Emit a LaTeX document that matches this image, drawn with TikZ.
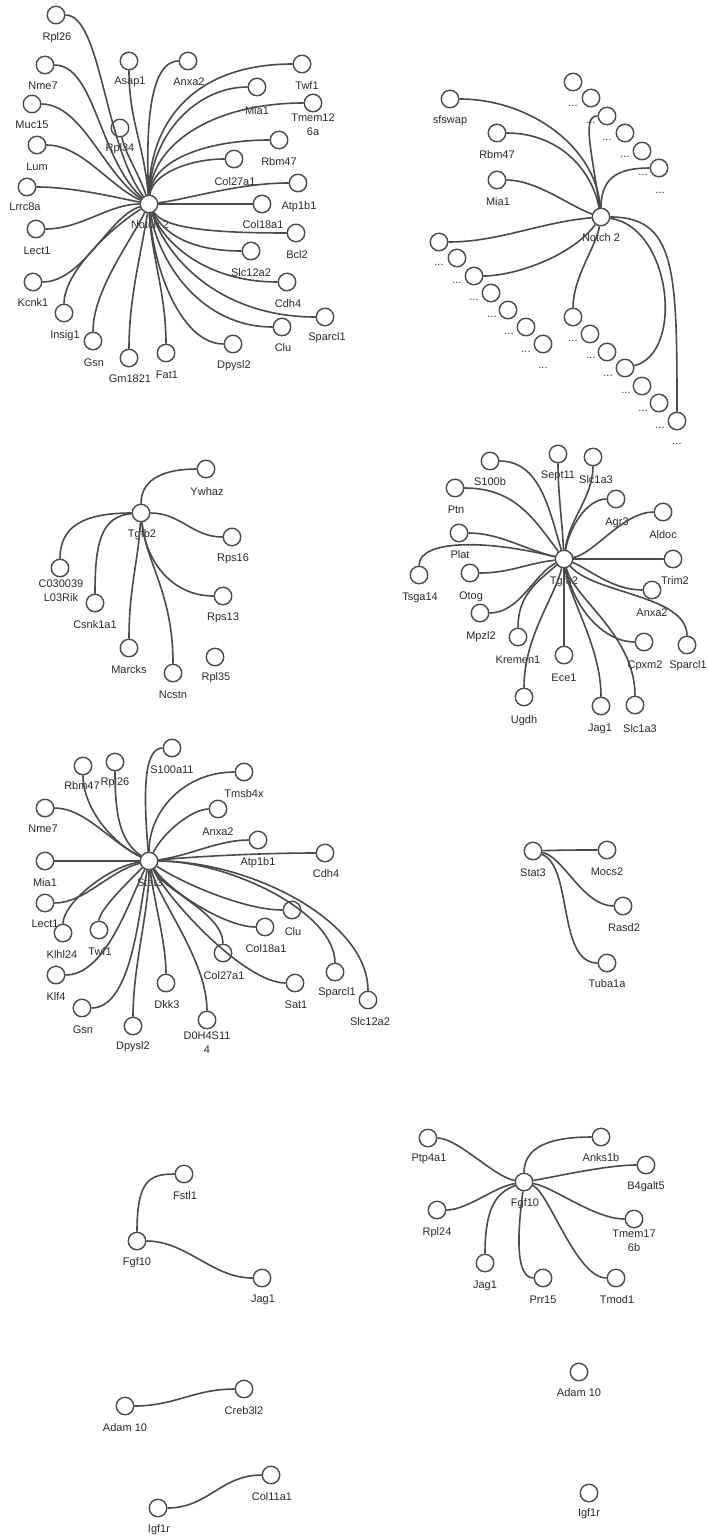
\documentclass[tikz,border=0pt]{standalone}
\usepackage{fontspec}
\setmainfont{Liberation Sans}
\definecolor{ln}{HTML}{4A4A4A}
\definecolor{tx}{HTML}{2A2A2A}
\tikzset{
  gene/.style={circle, draw=ln, line width=1.4pt, fill=white, minimum size=17.5pt, inner sep=0pt},
  lab/.style={font=\fontsize{11}{14}\selectfont, text=tx, inner sep=0pt, align=center},
  edge/.style={draw=ln, line width=1.6pt}
}
\newcommand\gnode[6]{\node[gene] (#1) at (#2,#3) {}; \node[lab] (#1l) at (#5,#6) {#4};}
\newcommand\dnode[5]{\node[gene] (#1) at (#2,#3) {}; \node[lab] (#1l) at (#4,#5) {...};}
\newcommand\edg[4]{\draw[edge] (#1) .. controls +(#2) and +(#3) .. (#4);}
\begin{document}
\begin{tikzpicture}[x=1pt,y=-1pt]
\path[use as bounding box, fill=white] (0,0) rectangle (708,1536);
% ---------- Notch 2 (left) ----------
\gnode{aH}{149}{204}{Notch 2}{150}{225}
\gnode{a1}{56}{15}{Rpl26}{57}{38}
\gnode{a2}{45}{65}{Nme7}{43}{86}
\gnode{a3}{32}{104}{Muc15}{32}{125}
\gnode{a4}{37}{145}{Lum}{37}{167}
\gnode{a5}{27}{187}{Lrrc8a}{25}{207}
\gnode{a6}{36}{229}{Lect1}{37}{251}
\gnode{a7}{33}{282}{Kcnk1}{33}{303}
\gnode{a8}{64}{313}{Insig1}{65}{336}
\gnode{a9}{93}{341}{Gsn}{94}{363}
\gnode{a10}{129}{358}{Gm1821}{130}{379}
\gnode{a11}{166}{353}{Fat1}{167}{375}
\gnode{a12}{233}{344}{Dpysl2}{234}{366}
\gnode{a13}{282}{327}{Clu}{283}{348}
\gnode{a14}{325}{317}{Sparcl1}{327}{338}
\gnode{a15}{287}{282}{Cdh4}{288}{304}
\gnode{a16}{251}{251}{Slc12a2}{251}{273}
\gnode{a17}{296}{233}{Bcl2}{297}{255}
\gnode{a18}{262}{204}{Col18a1}{263}{225}
\gnode{a19}{298}{183}{Atp1b1}{299}{207}
\gnode{a20}{234}{159}{Col27a1}{235}{182}
\gnode{a21}{279}{140}{Rbm47}{279}{162}
\gnode{a22}{313}{103}{Tmem12\\6a}{313}{125}
\gnode{a23}{257}{87}{Mia1}{257}{111}
\gnode{a24}{302}{64}{Twf1}{307}{86}
\gnode{a25}{188}{61}{Anxa2}{189}{82}
\gnode{a26}{129}{61}{Asap1}{130}{82}
\gnode{a27}{120}{128}{Rpl34}{120}{149}
\edg{aH}{-45,-60}{45,0}{a1}
\edg{aH}{-50,-45}{50,0}{a2}
\edg{aH}{-45,-30}{50,0}{a3}
\edg{aH}{-40,-18}{45,0}{a4}
\edg{aH}{-40,-8}{45,0}{a5}
\edg{aH}{-40,0}{45,0}{a6}
\edg{aH}{-40,12}{50,0}{a7}
\edg{aH}{-40,25}{0,-40}{a8}
\edg{aH}{-20,40}{0,-50}{a9}
\edg{aH}{-8,50}{0,-60}{a10}
\edg{aH}{2,50}{0,-60}{a11}
\edg{aH}{5,70}{-50,0}{a12}
\edg{aH}{10,60}{-80,0}{a13}
\edg{aH}{20,60}{-100,0}{a14}
\edg{aH}{15,40}{-80,0}{a15}
\edg{aH}{15,30}{-60,0}{a16}
\edg{aH}{15,25}{-80,0}{a17}
\edg{aH}{40,0}{-40,0}{a18}
\edg{aH}{40,-5}{-60,0}{a19}
\edg{aH}{3,-30}{-45,0}{a20}
\edg{aH}{3,-45}{-70,0}{a21}
\edg{aH}{3,-60}{-100,0}{a22}
\edg{aH}{2,-70}{-60,0}{a23}
\edg{aH}{0,-80}{-110,0}{a24}
\edg{aH}{-3,-70}{-40,0}{a25}
\edg{aH}{-5,-60}{0,60}{a26}
\edg{aH}{-10,-30}{5,25}{a27}
% ---------- Notch 2 (right) ----------
\gnode{bH}{601}{217}{Notch 2}{601}{238}
\gnode{b1}{450}{99}{sfswap}{450}{121}
\gnode{b2}{497}{133}{Rbm47}{497}{155}
\gnode{b3}{497}{180}{Mia1}{498}{202}
\dnode{bt1}{573}{82}{573}{106}
\dnode{bt2}{591}{98}{591}{123}
\dnode{bt3}{607}{116}{607}{140}
\dnode{bt4}{625}{133}{625}{157}
\dnode{bt5}{642}{151}{643}{175}
\dnode{bt6}{659}{168}{660}{193}
\dnode{bl1}{439}{242}{439}{265}
\dnode{bl2}{457}{258}{457}{283}
\dnode{bl3}{474}{276}{474}{300}
\dnode{bl4}{491}{293}{492}{317}
\dnode{bl5}{508}{310}{509}{334}
\dnode{bl6}{526}{327}{526}{352}
\dnode{bl7}{543}{344}{543}{368}
\dnode{br1}{573}{317}{573}{341}
\dnode{br2}{590}{334}{591}{358}
\dnode{br3}{607}{352}{608}{376}
\dnode{br4}{625}{368}{626}{393}
\dnode{br5}{642}{386}{643}{411}
\dnode{br6}{659}{403}{660}{428}
\dnode{br7}{677}{421}{677}{444}
\edg{bH}{-5,-70}{80,0}{b1}
\edg{bH}{-10,-50}{60,0}{b2}
\edg{bH}{-30,-10}{40,0}{b3}
\edg{bH}{-10,-70}{-25,0}{bt3}
\edg{bH}{0,-40}{-40,0}{bt6}
\edg{bH}{-60,5}{60,0}{bl1}
\edg{bH}{-30,40}{40,0}{bl3}
\edg{bH}{-5,30}{0,-40}{br1}
\edg{bH}{70,10}{60,-15}{br4}
\edg{bH}{75,0}{0,-150}{br7}
% ---------- Tgfb2 (left) ----------
\gnode{cH}{141}{513}{Tgfb2}{142}{535}
\gnode{c1}{206}{469}{Ywhaz}{207}{492}
\gnode{c2}{232}{537}{Rps16}{233}{559}
\gnode{c3}{223}{596}{Rps13}{223}{618}
\gnode{c4}{215}{657}{Rpl35}{216}{678}
\gnode{c5}{173}{673}{Ncstn}{173}{695}
\gnode{c6}{129}{648}{Marcks}{129}{670}
\gnode{c7}{95}{603}{Csnk1a1}{95}{625}
\gnode{c8}{60}{568}{C030039\\L03Rik}{61}{591}
\edg{cH}{0,-35}{-40,0}{c1}
\edg{cH}{40,0}{-40,0}{c2}
\edg{cH}{5,50}{-50,0}{c3}
\edg{cH}{5,50}{0,-80}{c5}
\edg{cH}{-3,50}{0,-60}{c6}
\edg{cH}{-40,3}{0,-60}{c7}
\edg{cH}{-60,0}{0,-40}{c8}
% ---------- Tgfb2 (right) ----------
\gnode{dH}{564}{559}{Tgfb2}{564}{582}
\gnode{d1}{490}{461}{S100b}{490}{482}
\gnode{d2}{558}{454}{Sept11}{558}{476}
\gnode{d3}{593}{457}{Slc1a3}{596}{480}
\gnode{d4}{455}{488}{Ptn}{456}{510}
\gnode{d5}{616}{499}{Agr3}{617}{523}
\gnode{d6}{663}{512}{Aldoc}{663}{535}
\gnode{d7}{459}{533}{Plat}{460}{555}
\gnode{d8}{673}{559}{Trim2}{675}{581}
\gnode{d9}{419}{575}{Tsga14}{420}{598}
\gnode{d10}{470}{573}{Otog}{471}{597}
\gnode{d11}{652}{590}{Anxa2}{652}{613}
\gnode{d12}{480}{613}{Mpzl2}{481}{637}
\gnode{d13}{687}{645}{Sparcl1}{688}{666}
\gnode{d14}{518}{637}{Kremen1}{518}{660}
\gnode{d15}{644}{642}{Cpxm2}{645}{666}
\gnode{d16}{564}{655}{Ece1}{564}{678}
\gnode{d17}{524}{697}{Ugdh}{524}{721}
\gnode{d18}{601}{706}{Jag1}{600}{729}
\gnode{d19}{635}{705}{Slc1a3}{640}{729}
\edg{dH}{-15,-50}{50,0}{d1}
\edg{dH}{-2,-40}{0,40}{d2}
\edg{dH}{5,-40}{0,40}{d3}
\edg{dH}{-30,-40}{60,0}{d4}
\edg{dH}{5,-30}{-30,0}{d5}
\edg{dH}{30,-5}{-40,0}{d6}
\edg{dH}{-40,-10}{40,0}{d7}
\edg{dH}{40,0}{-40,0}{d8}
\edg{dH}{-80,-20}{0,-35}{d9}
\edg{dH}{-40,5}{40,0}{d10}
\edg{dH}{25,10}{-40,0}{d11}
\edg{dH}{-30,15}{40,0}{d12}
\edg{dH}{30,35}{0,-50}{d13}
\edg{dH}{-30,25}{0,-40}{d14}
\edg{dH}{10,50}{-40,0}{d15}
\edg{dH}{0,30}{0,-30}{d16}
\edg{dH}{-10,40}{0,-60}{d17}
\edg{dH}{5,40}{0,-60}{d18}
\edg{dH}{10,40}{0,-70}{d19}
% ---------- Stat3 (left) ----------
\gnode{eH}{149}{861}{Stat3}{150}{883}
\gnode{e1}{172}{748}{S100a11}{172}{770}
\gnode{e2}{83}{766}{Rbm47}{82}{786}
\gnode{e3}{115}{762}{Rpl26}{115}{783}
\gnode{e4}{244}{772}{Tmsb4x}{244}{794}
\gnode{e5}{45}{808}{Nme7}{43}{829}
\gnode{e6}{218}{809}{Anxa2}{218}{832}
\gnode{e7}{258}{840}{Atp1b1}{258}{863}
\gnode{e8}{325}{853}{Cdh4}{326}{874}
\gnode{e9}{45}{861}{Mia1}{45}{883}
\gnode{e10}{45}{903}{Lect1}{45}{924}
\gnode{e11}{63}{933}{Klhl24}{62}{955}
\gnode{e12}{99}{930}{Twf1}{100}{952}
\gnode{e13}{292}{910}{Clu}{293}{932}
\gnode{e14}{265}{927}{Col18a1}{266}{949}
\gnode{e15}{223}{953}{Col27a1}{224}{976}
\gnode{e16}{56}{975}{Klf4}{56}{997}
\gnode{e17}{335}{972}{Sparcl1}{337}{993}
\gnode{e18}{295}{983}{Sat1}{296}{1005}
\gnode{e19}{166}{983}{Dkk3}{167}{1005}
\gnode{e20}{82}{1008}{Gsn}{83}{1030}
\gnode{e21}{368}{1000}{Slc12a2}{370}{1022}
\gnode{e22}{133}{1026}{Dpysl2}{133}{1047}
\gnode{e23}{207}{1020}{D0H4S11\\4}{207}{1043}
\edg{eH}{-5,-60}{-30,0}{e1}
\edg{eH}{-40,-20}{0,40}{e2}
\edg{eH}{-30,-20}{0,50}{e3}
\edg{eH}{0,-50}{-60,0}{e4}
\edg{eH}{-40,-20}{40,0}{e5}
\edg{eH}{15,-30}{-25,0}{e6}
\edg{eH}{40,-5}{-40,0}{e7}
\edg{eH}{50,-5}{-60,0}{e8}
\edg{eH}{-40,0}{40,0}{e9}
\edg{eH}{-40,10}{40,0}{e10}
\edg{eH}{-40,5}{0,-30}{e11}
\edg{eH}{-20,20}{0,-20}{e12}
\edg{eH}{30,20}{-50,0}{e13}
\edg{eH}{20,30}{-40,0}{e14}
\edg{eH}{15,30}{0,-40}{e15}
\edg{eH}{-20,40}{50,0}{e16}
\edg{eH}{80,0}{0,-60}{e17}
\edg{eH}{20,40}{-50,0}{e18}
\edg{eH}{5,40}{0,-40}{e19}
\edg{eH}{-10,50}{50,0}{e20}
\edg{eH}{100,0}{0,-80}{e21}
\edg{eH}{0,50}{0,-60}{e22}
\edg{eH}{10,40}{0,-60}{e23}
% ---------- Stat3 (right) ----------
\gnode{fH}{533}{851}{Stat3}{533}{873}
\gnode{f1}{607}{850}{Mocs2}{607}{872}
\gnode{f2}{623}{906}{Rasd2}{624}{928}
\gnode{f3}{607}{963}{Tuba1a}{607}{984}
\edg{fH}{30,-1}{-30,0}{f1}
\edg{fH}{30,5}{-40,0}{f2}
\edg{fH}{40,15}{-50,0}{f3}
% ---------- Fgf10 (left) ----------
\gnode{gH}{137}{1241}{Fgf10}{137}{1263}
\gnode{g1}{184}{1174}{Fstl1}{185}{1196}
\gnode{g2}{262}{1278}{Jag1}{263}{1300}
\edg{gH}{0,-60}{-35,0}{g1}
\edg{gH}{50,0}{-50,0}{g2}
% ---------- Fgf10 (right) ----------
\gnode{hH}{524}{1182}{Fgf10}{525}{1204}
\gnode{h1}{428}{1138}{Ptp4a1}{429}{1159}
\gnode{h2}{601}{1137}{Anks1b}{601}{1158}
\gnode{h3}{646}{1165}{B4galt5}{646}{1187}
\gnode{h4}{437}{1210}{Rpl24}{437}{1233}
\gnode{h5}{634}{1219}{Tmem17\\6b}{634}{1241}
\gnode{h6}{485}{1263}{Jag1}{485}{1286}
\gnode{h7}{543}{1278}{Prr15}{543}{1300}
\gnode{h8}{616}{1278}{Tmod1}{617}{1300}
\edg{hH}{-30,-5}{30,0}{h1}
\edg{hH}{0,-40}{-40,0}{h2}
\edg{hH}{30,-5}{-40,0}{h3}
\edg{hH}{-30,5}{30,0}{h4}
\edg{hH}{30,5}{-40,0}{h5}
\edg{hH}{-25,10}{0,-60}{h6}
\edg{hH}{-5,40}{-30,0}{h7}
\edg{hH}{25,10}{-40,0}{h8}
% ---------- bottom ----------
\gnode{i1}{125}{1406}{Adam 10}{125}{1428}
\gnode{i2}{244}{1389}{Creb3l2}{244}{1411}
\gnode{i3}{158}{1508}{Igf1r}{159}{1530}
\gnode{i4}{271}{1475}{Col11a1}{272}{1497}
\gnode{i5}{579}{1372}{Adam 10}{579}{1393}
\gnode{i6}{589}{1493}{Igf1r}{589}{1514}
\edg{i1}{50,0}{-50,0}{i2}
\edg{i3}{50,0}{-50,0}{i4}
\end{tikzpicture}
\end{document}
